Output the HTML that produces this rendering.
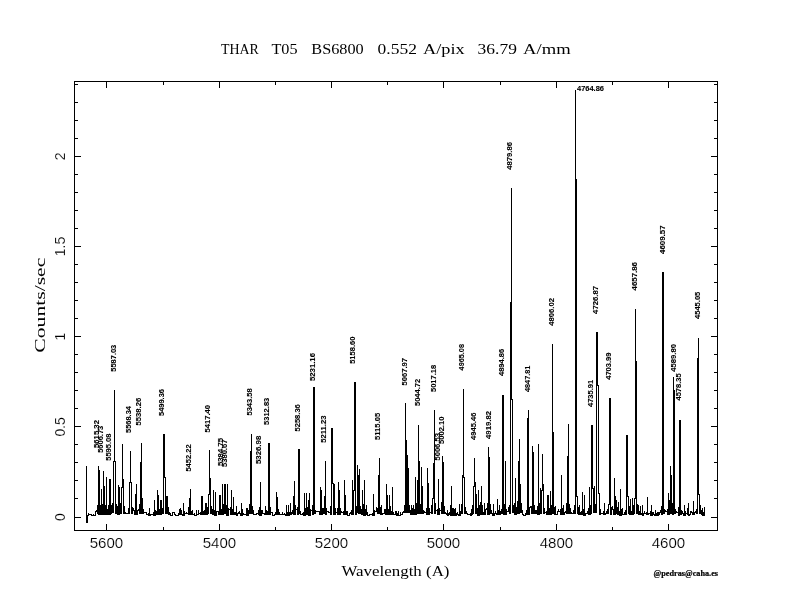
<!DOCTYPE html><html><head><meta charset="utf-8"><style>html,body{margin:0;padding:0;background:#fff;}svg{display:block;filter:grayscale(1);}</style></head><body>
<svg width="792" height="612" viewBox="0 0 792 612">
<rect width="792" height="612" fill="#fff"/>
<path d="M74.5,81.5H717.5V530.5H74.5ZM668.5,531V524M668.5,81V88M612.5,531V527M612.5,81V85M556.5,531V524M556.5,81V88M500.5,531V527M500.5,81V85M443.5,531V524M443.5,81V88M387.5,531V527M387.5,81V85M331.5,531V524M331.5,81V88M275.5,531V527M275.5,81V85M219.5,531V524M219.5,81V88M163.5,531V527M163.5,81V85M106.5,531V524M106.5,81V88M74,517.5H81M718,517.5H711M74,498.5H78M718,498.5H714M74,480.5H78M718,480.5H714M74,462.5H78M718,462.5H714M74,444.5H78M718,444.5H714M74,426.5H81M718,426.5H711M74,408.5H78M718,408.5H714M74,390.5H78M718,390.5H714M74,372.5H78M718,372.5H714M74,354.5H78M718,354.5H714M74,336.5H81M718,336.5H711M74,318.5H78M718,318.5H714M74,300.5H78M718,300.5H714M74,282.5H78M718,282.5H714M74,264.5H78M718,264.5H714M74,246.5H81M718,246.5H711M74,228.5H78M718,228.5H714M74,210.5H78M718,210.5H714M74,192.5H78M718,192.5H714M74,174.5H78M718,174.5H714M74,156.5H81M718,156.5H711M74,138.5H78M718,138.5H714M74,120.5H78M718,120.5H714M74,102.5H78M718,102.5H714M74,84.5H78M718,84.5H714" fill="none" stroke="#000" stroke-width="1" shape-rendering="crispEdges"/>
<path d="M86.5,466 86.5,522 87.5,522 87.5,515 88.5,515 88.5,513 88.5,514 89.5,514 90.5,514 91.5,514 91.5,515 92.5,515 93.5,515 93.5,514 93.5,515 94.5,515 95.5,515 95.5,511 96.5,511 96.5,510 97.5,510 97.5,505 97.5,513 98.5,513 98.5,466 98.5,514 99.5,514 99.5,470 99.5,514 100.5,514 100.5,505 100.5,514 101.5,514 101.5,489 101.5,514 102.5,514 102.5,504 102.5,514 103.5,514 103.5,471 103.5,514 104.5,514 104.5,486 104.5,513 105.5,513 105.5,505 105.5,514 106.5,514 106.5,477 106.5,514 107.5,514 107.5,509 108.5,509 108.5,505 108.5,514 109.5,514 109.5,479 109.5,514 110.5,514 110.5,479 110.5,513 111.5,513 111.5,505 112.5,505 112.5,503 112.5,512 113.5,512 113.5,461 114.5,461 114.5,390 114.5,461 115.5,461 115.5,513 116.5,513 116.5,504 116.5,506 117.5,506 117.5,514 118.5,514 118.5,485 118.5,514 119.5,514 119.5,487 119.5,513 120.5,513 120.5,503 120.5,513 121.5,513 121.5,487 122.5,487 122.5,444 122.5,479 123.5,479 123.5,513 124.5,513 124.5,506 124.5,512 125.5,512 125.5,513 126.5,513 127.5,513 128.5,513 128.5,508 128.5,513 129.5,513 129.5,482 130.5,482 130.5,451 130.5,482 131.5,482 131.5,513 132.5,513 132.5,507 132.5,508 133.5,508 133.5,510 134.5,510 134.5,514 135.5,514 135.5,494 135.5,514 136.5,514 136.5,484 136.5,514 137.5,514 137.5,510 138.5,510 138.5,509 139.5,509 139.5,504 139.5,513 140.5,513 140.5,462 140.5,513 141.5,513 141.5,443 141.5,498 142.5,498 142.5,513 143.5,513 143.5,509 143.5,512 144.5,512 145.5,512 146.5,512 146.5,514 147.5,514 148.5,514 148.5,513 148.5,515 149.5,515 149.5,508 149.5,515 150.5,515 150.5,514 151.5,514 152.5,514 153.5,514 153.5,512 153.5,515 154.5,515 154.5,500 154.5,515 155.5,515 155.5,510 155.5,511 156.5,511 156.5,514 157.5,514 157.5,490 157.5,514 158.5,514 158.5,495 158.5,514 159.5,514 159.5,509 159.5,514 160.5,514 160.5,500 160.5,514 161.5,514 161.5,500 161.5,513 162.5,513 162.5,508 162.5,513 163.5,513 163.5,434 164.5,434 164.5,477 165.5,477 165.5,513 166.5,513 166.5,496 166.5,513 167.5,513 167.5,496 167.5,513 168.5,513 168.5,507 168.5,514 169.5,514 169.5,512 169.5,513 170.5,513 170.5,515 171.5,515 172.5,515 172.5,512 173.5,512 174.5,512 174.5,514 175.5,514 175.5,515 176.5,515 177.5,515 178.5,515 178.5,513 178.5,514 179.5,514 179.5,509 179.5,514 180.5,514 180.5,508 180.5,510 181.5,510 181.5,514 182.5,514 182.5,515 183.5,515 183.5,503 183.5,515 184.5,515 184.5,511 184.5,513 185.5,513 186.5,513 186.5,512 186.5,513 187.5,513 188.5,513 188.5,507 188.5,514 189.5,514 189.5,498 189.5,514 190.5,514 190.5,489 190.5,514 191.5,514 191.5,511 192.5,511 192.5,510 192.5,514 193.5,514 194.5,514 194.5,513 194.5,515 195.5,515 196.5,515 196.5,510 196.5,514 197.5,514 198.5,514 198.5,510 198.5,513 199.5,513 200.5,513 200.5,512 200.5,514 201.5,514 201.5,496 201.5,514 202.5,514 202.5,496 202.5,514 203.5,514 203.5,511 204.5,511 204.5,510 204.5,514 205.5,514 205.5,503 205.5,514 206.5,514 206.5,503 206.5,514 207.5,514 207.5,507 207.5,513 208.5,513 208.5,494 209.5,494 209.5,450 209.5,478 210.5,478 210.5,513 211.5,513 211.5,506 211.5,509 212.5,509 212.5,514 213.5,514 213.5,490 213.5,514 214.5,514 214.5,510 214.5,515 215.5,515 215.5,492 215.5,515 216.5,515 216.5,511 217.5,511 218.5,511 218.5,514 219.5,514 219.5,495 219.5,514 220.5,514 220.5,495 220.5,514 221.5,514 221.5,509 221.5,514 222.5,514 222.5,484 222.5,514 223.5,514 223.5,504 223.5,513 224.5,513 224.5,484 224.5,513 225.5,513 225.5,484 225.5,513 226.5,513 226.5,505 226.5,515 227.5,515 227.5,484 227.5,515 228.5,515 228.5,508 228.5,509 229.5,509 230.5,509 230.5,507 230.5,514 231.5,514 231.5,490 231.5,514 232.5,514 232.5,509 232.5,514 233.5,514 233.5,497 233.5,514 234.5,514 234.5,512 235.5,512 235.5,514 236.5,514 236.5,506 236.5,515 237.5,515 237.5,513 238.5,513 238.5,512 239.5,512 239.5,511 239.5,513 240.5,513 240.5,515 241.5,515 241.5,502.5 241.5,515 242.5,515 242.5,509 242.5,513 243.5,513 243.5,514 244.5,514 245.5,514 246.5,514 246.5,508 246.5,515 247.5,515 247.5,508 247.5,515 248.5,515 248.5,510 249.5,510 249.5,504 249.5,513 250.5,513 250.5,451 251.5,451 251.5,434 251.5,513 252.5,513 252.5,506 252.5,510 253.5,510 253.5,514 254.5,514 255.5,514 256.5,514 256.5,513 257.5,513 258.5,513 258.5,510 258.5,514 259.5,514 259.5,507 259.5,515 260.5,515 260.5,482 260.5,515 261.5,515 261.5,510 262.5,510 262.5,513 263.5,513 264.5,513 264.5,514 265.5,514 265.5,506 265.5,514 266.5,514 266.5,510 266.5,511 267.5,511 267.5,514 268.5,514 268.5,443 269.5,443 269.5,514 270.5,514 270.5,507 270.5,512 271.5,512 272.5,512 272.5,515 273.5,515 274.5,515 274.5,514 275.5,514 275.5,512 275.5,514 276.5,514 276.5,491.5 276.5,514 277.5,514 277.5,497 277.5,514 278.5,514 278.5,509 278.5,512 279.5,512 279.5,514 280.5,514 281.5,514 282.5,514 282.5,512 282.5,514 283.5,514 284.5,514 284.5,513 284.5,514 285.5,514 285.5,515 286.5,515 286.5,505 286.5,514 287.5,514 287.5,512 287.5,515 288.5,515 288.5,505 288.5,515 289.5,515 289.5,512 289.5,514 290.5,514 290.5,503 290.5,514 291.5,514 291.5,512 292.5,512 292.5,510 292.5,513 293.5,513 293.5,496 293.5,514 294.5,514 294.5,481 294.5,514 295.5,514 295.5,505 295.5,509 296.5,509 297.5,509 297.5,507 297.5,514 298.5,514 298.5,449 299.5,449 299.5,513 300.5,513 300.5,511 300.5,514 301.5,514 302.5,514 302.5,513 303.5,513 303.5,512 303.5,515 304.5,515 304.5,493 304.5,515 305.5,515 305.5,508 305.5,514 306.5,514 306.5,493 306.5,513 307.5,513 307.5,507 307.5,514 308.5,514 308.5,500 308.5,515 309.5,515 309.5,493 309.5,515 310.5,515 310.5,509 310.5,510 311.5,510 312.5,510 312.5,505 312.5,514 313.5,514 313.5,387 314.5,387 314.5,513 315.5,513 315.5,510 315.5,511 316.5,511 317.5,511 318.5,511 319.5,511 319.5,514 320.5,514 320.5,487 320.5,514 321.5,514 321.5,490 321.5,514 322.5,514 322.5,508 323.5,508 323.5,513 324.5,513 324.5,496 325.5,496 325.5,461 325.5,514 326.5,514 326.5,508 326.5,511 327.5,511 328.5,511 328.5,512 329.5,512 330.5,512 330.5,506 330.5,514 331.5,514 331.5,428 332.5,428 332.5,483 333.5,483 333.5,514 334.5,514 334.5,484 334.5,514 335.5,514 335.5,508 335.5,512 336.5,512 337.5,512 337.5,508 337.5,514 338.5,514 338.5,482 338.5,514 339.5,514 339.5,490 339.5,514 340.5,514 340.5,508 340.5,511 341.5,511 341.5,512 342.5,512 343.5,512 343.5,511 343.5,514 344.5,514 344.5,480 344.5,514 345.5,514 345.5,495 345.5,514 346.5,514 346.5,511 347.5,511 347.5,515 348.5,515 349.5,515 349.5,513 350.5,513 350.5,512 351.5,512 351.5,510 351.5,514 352.5,514 352.5,480 352.5,514 353.5,514 353.5,490 354.5,490 354.5,382 355.5,382 355.5,514 356.5,514 356.5,506 356.5,512 357.5,512 357.5,465 357.5,512 358.5,512 358.5,475 358.5,513 359.5,513 359.5,469 359.5,513 360.5,513 360.5,506 360.5,509 361.5,509 361.5,514 362.5,514 362.5,490 362.5,514 363.5,514 363.5,504 363.5,515 364.5,515 364.5,480 364.5,515 365.5,515 365.5,509 365.5,514 366.5,514 366.5,505 366.5,514 367.5,514 367.5,512 367.5,515 368.5,515 369.5,515 369.5,514 370.5,514 371.5,514 372.5,514 372.5,513 372.5,515 373.5,515 373.5,494 373.5,515 374.5,515 374.5,510 374.5,511 375.5,511 376.5,511 376.5,507 376.5,508 377.5,508 377.5,513 378.5,513 378.5,475 378.5,513 379.5,513 379.5,458 379.5,513 380.5,513 380.5,507 380.5,514 381.5,514 381.5,505 381.5,514 382.5,514 382.5,513 383.5,513 384.5,513 384.5,509 385.5,509 385.5,514 386.5,514 386.5,484 386.5,514 387.5,514 387.5,495 387.5,514 388.5,514 388.5,509 388.5,514 389.5,514 389.5,495 389.5,514 390.5,514 390.5,506 390.5,511 391.5,511 391.5,514 392.5,514 392.5,487 392.5,514 393.5,514 393.5,512 393.5,514 394.5,514 395.5,514 395.5,511 395.5,514 396.5,514 396.5,511 396.5,515 397.5,515 397.5,513 397.5,515 398.5,515 398.5,511 398.5,515 399.5,515 400.5,515 400.5,512 400.5,514 401.5,514 402.5,514 402.5,512 403.5,512 403.5,511 404.5,511 404.5,505 404.5,512 405.5,512 405.5,403 405.5,512 406.5,512 406.5,440 406.5,512 407.5,512 407.5,455 407.5,512 408.5,512 408.5,468 408.5,512 409.5,512 409.5,505 409.5,510 410.5,510 410.5,514 411.5,514 411.5,505 411.5,514 412.5,514 412.5,508 412.5,514 413.5,514 413.5,505 413.5,514 414.5,514 414.5,509 414.5,514 415.5,514 415.5,477 415.5,514 416.5,514 416.5,503 416.5,513 417.5,513 417.5,480 418.5,480 418.5,425 418.5,513 419.5,513 419.5,461 419.5,512 420.5,512 420.5,504 420.5,513 421.5,513 421.5,467 421.5,513 422.5,513 422.5,486 422.5,513 423.5,513 423.5,510 423.5,511 424.5,511 424.5,512 425.5,512 426.5,512 426.5,508 426.5,514 427.5,514 427.5,468 427.5,514 428.5,514 428.5,483 428.5,514 429.5,514 429.5,508 429.5,512 430.5,512 431.5,512 431.5,505 431.5,513 432.5,513 432.5,498 433.5,498 433.5,463 434.5,463 434.5,410 434.5,513 435.5,513 435.5,503 435.5,510 436.5,510 437.5,510 437.5,509 437.5,514 438.5,514 438.5,479 438.5,514 439.5,514 439.5,508 439.5,510 440.5,510 441.5,510 441.5,502 441.5,513 442.5,513 442.5,456 442.5,513 443.5,513 443.5,462 443.5,513 444.5,513 444.5,506 444.5,512 445.5,512 445.5,513 446.5,513 446.5,514 447.5,514 447.5,510 447.5,515 448.5,515 448.5,513 449.5,513 449.5,512 449.5,514 450.5,514 450.5,505 450.5,515 451.5,515 451.5,486 451.5,515 452.5,515 452.5,508 452.5,515 453.5,515 453.5,508 453.5,515 454.5,515 454.5,509 454.5,515 455.5,515 455.5,508 455.5,515 456.5,515 456.5,513 457.5,513 457.5,512 457.5,514 458.5,514 458.5,515 459.5,515 459.5,504 459.5,515 460.5,515 460.5,511 461.5,511 461.5,504 461.5,513 462.5,513 462.5,475 463.5,475 463.5,389 463.5,477 464.5,477 464.5,513 465.5,513 465.5,507 465.5,511 466.5,511 466.5,513 467.5,513 467.5,514 468.5,514 469.5,514 470.5,514 470.5,513 470.5,515 471.5,515 471.5,509 471.5,514 472.5,514 472.5,505 472.5,513 473.5,513 473.5,486 474.5,486 474.5,458 474.5,482 475.5,482 475.5,513 476.5,513 476.5,494 476.5,513 477.5,513 477.5,508 477.5,515 478.5,515 478.5,490 478.5,515 479.5,515 479.5,505 479.5,514 480.5,514 480.5,502 480.5,514 481.5,514 481.5,486 481.5,514 482.5,514 482.5,505 482.5,512 483.5,512 483.5,514 484.5,514 484.5,502.5 484.5,514 485.5,514 485.5,509 486.5,509 486.5,508 487.5,508 487.5,503 487.5,514 488.5,514 488.5,447 488.5,514 489.5,514 489.5,457 489.5,513 490.5,513 490.5,504 490.5,510 491.5,510 491.5,513 492.5,513 492.5,515 493.5,515 493.5,504 493.5,515 494.5,515 494.5,513 495.5,513 495.5,511 495.5,513 496.5,513 496.5,514 497.5,514 497.5,499 497.5,514 498.5,514 498.5,510 498.5,514 499.5,514 499.5,505 499.5,514 500.5,514 500.5,511 501.5,511 501.5,509 501.5,513 502.5,513 502.5,395 503.5,395 503.5,514 504.5,514 504.5,504 504.5,514 505.5,514 505.5,461 505.5,514 506.5,514 506.5,509 506.5,511 507.5,511 508.5,511 508.5,507 509.5,507 509.5,505 509.5,513 510.5,513 510.5,302 511.5,302 511.5,188 511.5,399 512.5,399 512.5,512 513.5,512 513.5,505 514.5,505 514.5,503 514.5,514 515.5,514 515.5,478 515.5,514 516.5,514 516.5,507 517.5,507 517.5,501 517.5,513 518.5,513 518.5,461 518.5,513 519.5,513 519.5,438.6 519.5,484 520.5,484 520.5,512 521.5,512 521.5,503 521.5,510 522.5,510 522.5,514 523.5,514 523.5,515 524.5,515 525.5,515 525.5,513 526.5,513 526.5,510 526.5,514 527.5,514 527.5,418 528.5,418 528.5,410 528.5,514 529.5,514 529.5,507 530.5,507 530.5,506 531.5,506 531.5,513 532.5,513 532.5,446 532.5,513 533.5,513 533.5,452 533.5,513 534.5,513 534.5,505 534.5,510 535.5,510 535.5,513 536.5,513 536.5,510 536.5,513 537.5,513 537.5,506 537.5,514 538.5,514 538.5,444.4 538.5,514 539.5,514 539.5,503 539.5,513 540.5,513 540.5,488 540.5,513 541.5,513 541.5,490 542.5,490 542.5,454 542.5,484 543.5,484 543.5,513 544.5,513 544.5,508 544.5,512 545.5,512 546.5,512 546.5,511 546.5,514 547.5,514 547.5,495 547.5,514 548.5,514 548.5,495 548.5,514 549.5,514 549.5,508 549.5,514 550.5,514 550.5,491 550.5,514 551.5,514 551.5,505 551.5,513 552.5,513 552.5,344 552.5,432 553.5,432 553.5,513 554.5,513 554.5,507 554.5,514 555.5,514 555.5,506 555.5,514 556.5,514 557.5,514 557.5,511 558.5,511 558.5,509 558.5,511 559.5,511 560.5,511 560.5,509 560.5,514 561.5,514 561.5,475 561.5,514 562.5,514 562.5,508 562.5,514 563.5,514 563.5,505 563.5,514 564.5,514 564.5,512 565.5,512 565.5,511 566.5,511 566.5,503 566.5,513 567.5,513 567.5,456 567.5,513 568.5,513 568.5,424 568.5,504 569.5,504 569.5,513 570.5,513 570.5,508 570.5,512 571.5,512 571.5,513 572.5,513 573.5,513 573.5,510 574.5,510 574.5,505 574.5,513 575.5,513 575.5,90 575.5,179.5 576.5,179.5 576.5,496 577.5,496 577.5,513 578.5,513 578.5,507 578.5,514 579.5,514 579.5,505 579.5,514 580.5,514 580.5,512 581.5,512 581.5,511 581.5,514 582.5,514 582.5,492 582.5,514 583.5,514 583.5,509 583.5,515 584.5,515 584.5,495 584.5,515 585.5,515 585.5,513 586.5,513 587.5,513 587.5,511 588.5,511 588.5,508 588.5,514 589.5,514 589.5,487 589.5,514 590.5,514 590.5,505 590.5,513 591.5,513 591.5,425 592.5,425 592.5,488 593.5,488 593.5,512 594.5,512 594.5,486 594.5,512 595.5,512 595.5,504 595.5,512 596.5,512 596.5,332 597.5,332 597.5,385 598.5,385 598.5,493 599.5,493 599.5,514 600.5,514 600.5,509 600.5,513 601.5,513 602.5,513 603.5,513 603.5,511 603.5,514 604.5,514 604.5,503 604.5,514 605.5,514 605.5,513 606.5,513 606.5,511 607.5,511 607.5,509 607.5,513 608.5,513 608.5,504 609.5,504 609.5,398 610.5,398 610.5,514 611.5,514 611.5,507 612.5,507 612.5,506 612.5,509 613.5,509 613.5,514 614.5,514 614.5,477.5 614.5,514 615.5,514 615.5,496 615.5,513 616.5,513 616.5,500 616.5,513 617.5,513 617.5,507 617.5,514 618.5,514 618.5,502 618.5,514 619.5,514 619.5,511 619.5,515 620.5,515 620.5,488.5 620.5,515 621.5,515 621.5,509 621.5,514 622.5,514 622.5,508 622.5,514 623.5,514 624.5,514 624.5,512 625.5,512 625.5,510 625.5,514 626.5,514 626.5,435 627.5,435 627.5,496 628.5,496 628.5,513 629.5,513 629.5,506 629.5,514 630.5,514 630.5,499 630.5,514 631.5,514 631.5,511 631.5,514 632.5,514 632.5,498 632.5,514 633.5,514 633.5,505 633.5,513 634.5,513 634.5,498 635.5,498 635.5,309 635.5,361 636.5,361 636.5,513 637.5,513 637.5,504 637.5,513 638.5,513 638.5,505 638.5,514 639.5,514 639.5,511 639.5,514 640.5,514 640.5,506 640.5,514 641.5,514 641.5,513 641.5,514 642.5,514 642.5,505 642.5,515 643.5,515 643.5,513 644.5,513 644.5,511 644.5,513 645.5,513 646.5,513 646.5,512 646.5,514 647.5,514 647.5,497.4 647.5,514 648.5,514 648.5,513 649.5,513 650.5,513 650.5,511 650.5,515 651.5,515 651.5,505 651.5,515 652.5,515 652.5,512 653.5,512 653.5,514 654.5,514 654.5,515 655.5,515 655.5,510 655.5,515 656.5,515 656.5,513 657.5,513 657.5,512 657.5,515 658.5,515 658.5,512 658.5,514 659.5,514 659.5,512 660.5,512 660.5,510 661.5,510 661.5,506 661.5,514 662.5,514 662.5,272 663.5,272 663.5,513 664.5,513 664.5,509 664.5,510 665.5,510 665.5,511 666.5,511 667.5,511 667.5,509 667.5,514 668.5,514 668.5,493 668.5,514 669.5,514 669.5,500 670.5,500 670.5,466 670.5,513 671.5,513 671.5,475 671.5,513 672.5,513 672.5,503 672.5,514 673.5,514 673.5,377 673.5,390 674.5,390 674.5,513 675.5,513 675.5,509 675.5,511 676.5,511 676.5,512 677.5,512 678.5,512 678.5,507 678.5,515 679.5,515 679.5,419.5 679.5,420 680.5,420 680.5,514 681.5,514 681.5,510 681.5,511 682.5,511 682.5,513 683.5,513 683.5,515 684.5,515 684.5,505 684.5,515 685.5,515 685.5,511 685.5,513 686.5,513 687.5,513 687.5,508 687.5,514 688.5,514 688.5,503 688.5,515 689.5,515 689.5,514 690.5,514 690.5,511 691.5,511 691.5,512 692.5,512 692.5,514 693.5,514 693.5,501 693.5,514 694.5,514 694.5,512 695.5,512 695.5,511 696.5,511 696.5,509 696.5,513 697.5,513 697.5,358 698.5,358 698.5,338 698.5,494 699.5,494 699.5,513 700.5,513 700.5,505 700.5,510 701.5,510 701.5,514 702.5,514 702.5,508 702.5,515 703.5,515 703.5,512 703.5,515 704.5,515 704.5,507" fill="none" stroke="#000" stroke-width="1" stroke-linejoin="miter" shape-rendering="crispEdges"/>
<text x="221.10000000000002" y="54" font-family="Liberation Serif" font-size="15" font-weight="normal" text-anchor="start" textLength="37.8" lengthAdjust="spacingAndGlyphs">THAR</text>
<text x="271.40000000000003" y="54" font-family="Liberation Serif" font-size="15" font-weight="normal" text-anchor="start" textLength="26.1" lengthAdjust="spacingAndGlyphs">T05</text>
<text x="311.3" y="54" font-family="Liberation Serif" font-size="15" font-weight="normal" text-anchor="start" textLength="52.4" lengthAdjust="spacingAndGlyphs">BS6800</text>
<text x="377.6" y="54" font-family="Liberation Serif" font-size="15" font-weight="normal" text-anchor="start" textLength="39.3" lengthAdjust="spacingAndGlyphs">0.552</text>
<text x="423.1" y="54" font-family="Liberation Serif" font-size="15" font-weight="normal" text-anchor="start" textLength="41.6" lengthAdjust="spacingAndGlyphs">A/pix</text>
<text x="477.6" y="54" font-family="Liberation Serif" font-size="15" font-weight="normal" text-anchor="start" textLength="39.3" lengthAdjust="spacingAndGlyphs">36.79</text>
<text x="523.0999999999999" y="54" font-family="Liberation Serif" font-size="15" font-weight="normal" text-anchor="start" textLength="47.6" lengthAdjust="spacingAndGlyphs">A/mm</text>
<text x="106.5" y="548" font-family="Liberation Sans" font-size="14" font-weight="normal" text-anchor="middle" textLength="33.5" lengthAdjust="spacingAndGlyphs" stroke="#fff" stroke-width="0.15">5600</text>
<text x="219.5" y="548" font-family="Liberation Sans" font-size="14" font-weight="normal" text-anchor="middle" textLength="33.5" lengthAdjust="spacingAndGlyphs" stroke="#fff" stroke-width="0.15">5400</text>
<text x="331.5" y="548" font-family="Liberation Sans" font-size="14" font-weight="normal" text-anchor="middle" textLength="33.5" lengthAdjust="spacingAndGlyphs" stroke="#fff" stroke-width="0.15">5200</text>
<text x="443.5" y="548" font-family="Liberation Sans" font-size="14" font-weight="normal" text-anchor="middle" textLength="33.5" lengthAdjust="spacingAndGlyphs" stroke="#fff" stroke-width="0.15">5000</text>
<text x="556.5" y="548" font-family="Liberation Sans" font-size="14" font-weight="normal" text-anchor="middle" textLength="33.5" lengthAdjust="spacingAndGlyphs" stroke="#fff" stroke-width="0.15">4800</text>
<text x="668.5" y="548" font-family="Liberation Sans" font-size="14" font-weight="normal" text-anchor="middle" textLength="33.5" lengthAdjust="spacingAndGlyphs" stroke="#fff" stroke-width="0.15">4600</text>
<text x="65" y="517.0" font-family="Liberation Sans" font-size="14" font-weight="normal" text-anchor="middle" transform="rotate(-90 65 517.0)" stroke="#fff" stroke-width="0.15">0</text>
<text x="65" y="426.85" font-family="Liberation Sans" font-size="14" font-weight="normal" text-anchor="middle" transform="rotate(-90 65 426.85)" stroke="#fff" stroke-width="0.15">0.5</text>
<text x="65" y="336.7" font-family="Liberation Sans" font-size="14" font-weight="normal" text-anchor="middle" transform="rotate(-90 65 336.7)" stroke="#fff" stroke-width="0.15">1</text>
<text x="65" y="246.54999999999995" font-family="Liberation Sans" font-size="14" font-weight="normal" text-anchor="middle" transform="rotate(-90 65 246.54999999999995)" stroke="#fff" stroke-width="0.15">1.5</text>
<text x="65" y="156.39999999999998" font-family="Liberation Sans" font-size="14" font-weight="normal" text-anchor="middle" transform="rotate(-90 65 156.39999999999998)" stroke="#fff" stroke-width="0.15">2</text>
<text x="395.5" y="576" font-family="Liberation Serif" font-size="14" font-weight="normal" text-anchor="middle" textLength="108" lengthAdjust="spacingAndGlyphs">Wavelength (A)</text>
<text x="45.5" y="305.2" font-family="Liberation Serif" font-size="14.5" font-weight="normal" text-anchor="middle" textLength="95" lengthAdjust="spacingAndGlyphs" transform="rotate(-90 45.5 305.2)">Counts/sec</text>
<text x="653.6" y="575.5" font-family="Liberation Serif" font-size="8" font-weight="bold" text-anchor="start" textLength="64.4" lengthAdjust="spacingAndGlyphs" stroke="#000" stroke-width="0.2">@pedras@caha.es</text>
<text x="98.9" y="448" font-family="Liberation Sans" font-size="7" font-weight="bold" text-anchor="start" textLength="28" lengthAdjust="spacingAndGlyphs" transform="rotate(-90 98.9 448)" stroke="#000" stroke-width="0.1">5615.32</text>
<text x="103.35" y="452.8" font-family="Liberation Sans" font-size="7" font-weight="bold" text-anchor="start" textLength="27.1" lengthAdjust="spacingAndGlyphs" transform="rotate(-90 103.35 452.8)" stroke="#000" stroke-width="0.1">5606.73</text>
<text x="110.6" y="460.7" font-family="Liberation Sans" font-size="7" font-weight="bold" text-anchor="start" textLength="27.0" lengthAdjust="spacingAndGlyphs" transform="rotate(-90 110.6 460.7)" stroke="#000" stroke-width="0.1">5595.08</text>
<text x="115.7" y="371.7" font-family="Liberation Sans" font-size="7" font-weight="bold" text-anchor="start" textLength="27.0" lengthAdjust="spacingAndGlyphs" transform="rotate(-90 115.7 371.7)" stroke="#000" stroke-width="0.1">5587.03</text>
<text x="130.55" y="433" font-family="Liberation Sans" font-size="7" font-weight="bold" text-anchor="start" textLength="27" lengthAdjust="spacingAndGlyphs" transform="rotate(-90 130.55 433)" stroke="#000" stroke-width="0.1">5568.34</text>
<text x="141.35" y="425.5" font-family="Liberation Sans" font-size="7" font-weight="bold" text-anchor="start" textLength="27.8" lengthAdjust="spacingAndGlyphs" transform="rotate(-90 141.35 425.5)" stroke="#000" stroke-width="0.1">5538.26</text>
<text x="163.89999999999998" y="416" font-family="Liberation Sans" font-size="7" font-weight="bold" text-anchor="start" textLength="27" lengthAdjust="spacingAndGlyphs" transform="rotate(-90 163.89999999999998 416)" stroke="#000" stroke-width="0.1">5499.36</text>
<text x="190.75" y="471.6" font-family="Liberation Sans" font-size="7" font-weight="bold" text-anchor="start" textLength="27.2" lengthAdjust="spacingAndGlyphs" transform="rotate(-90 190.75 471.6)" stroke="#000" stroke-width="0.1">5452.22</text>
<text x="210.35" y="432.4" font-family="Liberation Sans" font-size="7" font-weight="bold" text-anchor="start" textLength="27.4" lengthAdjust="spacingAndGlyphs" transform="rotate(-90 210.35 432.4)" stroke="#000" stroke-width="0.1">5417.40</text>
<text x="223.0" y="466" font-family="Liberation Sans" font-size="7" font-weight="bold" text-anchor="start" textLength="28" lengthAdjust="spacingAndGlyphs" transform="rotate(-90 223.0 466)" stroke="#000" stroke-width="0.1">5384.75</text>
<text x="227.2" y="467" font-family="Liberation Sans" font-size="7" font-weight="bold" text-anchor="start" textLength="27.4" lengthAdjust="spacingAndGlyphs" transform="rotate(-90 227.2 467)" stroke="#000" stroke-width="0.1">5380.67</text>
<text x="251.7" y="415.5" font-family="Liberation Sans" font-size="7" font-weight="bold" text-anchor="start" textLength="27.2" lengthAdjust="spacingAndGlyphs" transform="rotate(-90 251.7 415.5)" stroke="#000" stroke-width="0.1">5343.58</text>
<text x="261.0" y="464.1" font-family="Liberation Sans" font-size="7" font-weight="bold" text-anchor="start" textLength="28.4" lengthAdjust="spacingAndGlyphs" transform="rotate(-90 261.0 464.1)" stroke="#000" stroke-width="0.1">5326.98</text>
<text x="269.45" y="425" font-family="Liberation Sans" font-size="7" font-weight="bold" text-anchor="start" textLength="27.3" lengthAdjust="spacingAndGlyphs" transform="rotate(-90 269.45 425)" stroke="#000" stroke-width="0.1">5312.83</text>
<text x="299.8" y="431.5" font-family="Liberation Sans" font-size="7" font-weight="bold" text-anchor="start" textLength="27.3" lengthAdjust="spacingAndGlyphs" transform="rotate(-90 299.8 431.5)" stroke="#000" stroke-width="0.1">5258.36</text>
<text x="314.6" y="381" font-family="Liberation Sans" font-size="7" font-weight="bold" text-anchor="start" textLength="28" lengthAdjust="spacingAndGlyphs" transform="rotate(-90 314.6 381)" stroke="#000" stroke-width="0.1">5231.16</text>
<text x="326.3" y="442.8" font-family="Liberation Sans" font-size="7" font-weight="bold" text-anchor="start" textLength="27.3" lengthAdjust="spacingAndGlyphs" transform="rotate(-90 326.3 442.8)" stroke="#000" stroke-width="0.1">5211.23</text>
<text x="355.45" y="363.8" font-family="Liberation Sans" font-size="7" font-weight="bold" text-anchor="start" textLength="27.2" lengthAdjust="spacingAndGlyphs" transform="rotate(-90 355.45 363.8)" stroke="#000" stroke-width="0.1">5158.60</text>
<text x="380.05" y="440" font-family="Liberation Sans" font-size="7" font-weight="bold" text-anchor="start" textLength="27.3" lengthAdjust="spacingAndGlyphs" transform="rotate(-90 380.05 440)" stroke="#000" stroke-width="0.1">5115.05</text>
<text x="407.05" y="385.5" font-family="Liberation Sans" font-size="7" font-weight="bold" text-anchor="start" textLength="27.5" lengthAdjust="spacingAndGlyphs" transform="rotate(-90 407.05 385.5)" stroke="#000" stroke-width="0.1">5067.97</text>
<text x="419.7" y="406" font-family="Liberation Sans" font-size="7" font-weight="bold" text-anchor="start" textLength="27.1" lengthAdjust="spacingAndGlyphs" transform="rotate(-90 419.7 406)" stroke="#000" stroke-width="0.1">5044.72</text>
<text x="435.7" y="392" font-family="Liberation Sans" font-size="7" font-weight="bold" text-anchor="start" textLength="27.2" lengthAdjust="spacingAndGlyphs" transform="rotate(-90 435.7 392)" stroke="#000" stroke-width="0.1">5017.18</text>
<text x="439.65" y="460.6" font-family="Liberation Sans" font-size="7" font-weight="bold" text-anchor="start" textLength="27.6" lengthAdjust="spacingAndGlyphs" transform="rotate(-90 439.65 460.6)" stroke="#000" stroke-width="0.1">5006.53</text>
<text x="443.95000000000005" y="444" font-family="Liberation Sans" font-size="7" font-weight="bold" text-anchor="start" textLength="27.4" lengthAdjust="spacingAndGlyphs" transform="rotate(-90 443.95000000000005 444)" stroke="#000" stroke-width="0.1">5002.10</text>
<text x="464.4" y="370.4" font-family="Liberation Sans" font-size="7" font-weight="bold" text-anchor="start" textLength="26.4" lengthAdjust="spacingAndGlyphs" transform="rotate(-90 464.4 370.4)" stroke="#000" stroke-width="0.1">4965.08</text>
<text x="475.65" y="440" font-family="Liberation Sans" font-size="7" font-weight="bold" text-anchor="start" textLength="27.4" lengthAdjust="spacingAndGlyphs" transform="rotate(-90 475.65 440)" stroke="#000" stroke-width="0.1">4945.46</text>
<text x="491.1" y="439" font-family="Liberation Sans" font-size="7" font-weight="bold" text-anchor="start" textLength="28.2" lengthAdjust="spacingAndGlyphs" transform="rotate(-90 491.1 439)" stroke="#000" stroke-width="0.1">4919.82</text>
<text x="503.75" y="376" font-family="Liberation Sans" font-size="7" font-weight="bold" text-anchor="start" textLength="27.2" lengthAdjust="spacingAndGlyphs" transform="rotate(-90 503.75 376)" stroke="#000" stroke-width="0.1">4894.86</text>
<text x="512.4" y="169.7" font-family="Liberation Sans" font-size="7" font-weight="bold" text-anchor="start" textLength="27.7" lengthAdjust="spacingAndGlyphs" transform="rotate(-90 512.4 169.7)" stroke="#000" stroke-width="0.1">4879.86</text>
<text x="530.0999999999999" y="392" font-family="Liberation Sans" font-size="7" font-weight="bold" text-anchor="start" textLength="26.3" lengthAdjust="spacingAndGlyphs" transform="rotate(-90 530.0999999999999 392)" stroke="#000" stroke-width="0.1">4847.81</text>
<text x="553.8" y="325.8" font-family="Liberation Sans" font-size="7" font-weight="bold" text-anchor="start" textLength="27.8" lengthAdjust="spacingAndGlyphs" transform="rotate(-90 553.8 325.8)" stroke="#000" stroke-width="0.1">4806.02</text>
<text x="593.35" y="407" font-family="Liberation Sans" font-size="7" font-weight="bold" text-anchor="start" textLength="27.2" lengthAdjust="spacingAndGlyphs" transform="rotate(-90 593.35 407)" stroke="#000" stroke-width="0.1">4735.91</text>
<text x="598.2" y="313.9" font-family="Liberation Sans" font-size="7" font-weight="bold" text-anchor="start" textLength="27.9" lengthAdjust="spacingAndGlyphs" transform="rotate(-90 598.2 313.9)" stroke="#000" stroke-width="0.1">4726.87</text>
<text x="611.3" y="379.8" font-family="Liberation Sans" font-size="7" font-weight="bold" text-anchor="start" textLength="27.2" lengthAdjust="spacingAndGlyphs" transform="rotate(-90 611.3 379.8)" stroke="#000" stroke-width="0.1">4703.99</text>
<text x="637.1" y="290.5" font-family="Liberation Sans" font-size="7" font-weight="bold" text-anchor="start" textLength="28.5" lengthAdjust="spacingAndGlyphs" transform="rotate(-90 637.1 290.5)" stroke="#000" stroke-width="0.1">4657.86</text>
<text x="665.15" y="254" font-family="Liberation Sans" font-size="7" font-weight="bold" text-anchor="start" textLength="28.6" lengthAdjust="spacingAndGlyphs" transform="rotate(-90 665.15 254)" stroke="#000" stroke-width="0.1">4609.57</text>
<text x="676.05" y="371.8" font-family="Liberation Sans" font-size="7" font-weight="bold" text-anchor="start" textLength="27.8" lengthAdjust="spacingAndGlyphs" transform="rotate(-90 676.05 371.8)" stroke="#000" stroke-width="0.1">4589.80</text>
<text x="681.1500000000001" y="400.5" font-family="Liberation Sans" font-size="7" font-weight="bold" text-anchor="start" textLength="27.2" lengthAdjust="spacingAndGlyphs" transform="rotate(-90 681.1500000000001 400.5)" stroke="#000" stroke-width="0.1">4578.35</text>
<text x="700.1500000000001" y="319" font-family="Liberation Sans" font-size="7" font-weight="bold" text-anchor="start" textLength="27.3" lengthAdjust="spacingAndGlyphs" transform="rotate(-90 700.1500000000001 319)" stroke="#000" stroke-width="0.1">4545.05</text>
<text x="577" y="91" font-family="Liberation Sans" font-size="7" font-weight="bold" text-anchor="start" textLength="27" lengthAdjust="spacingAndGlyphs" stroke="#000" stroke-width="0.1">4764.86</text>
</svg></body></html>
